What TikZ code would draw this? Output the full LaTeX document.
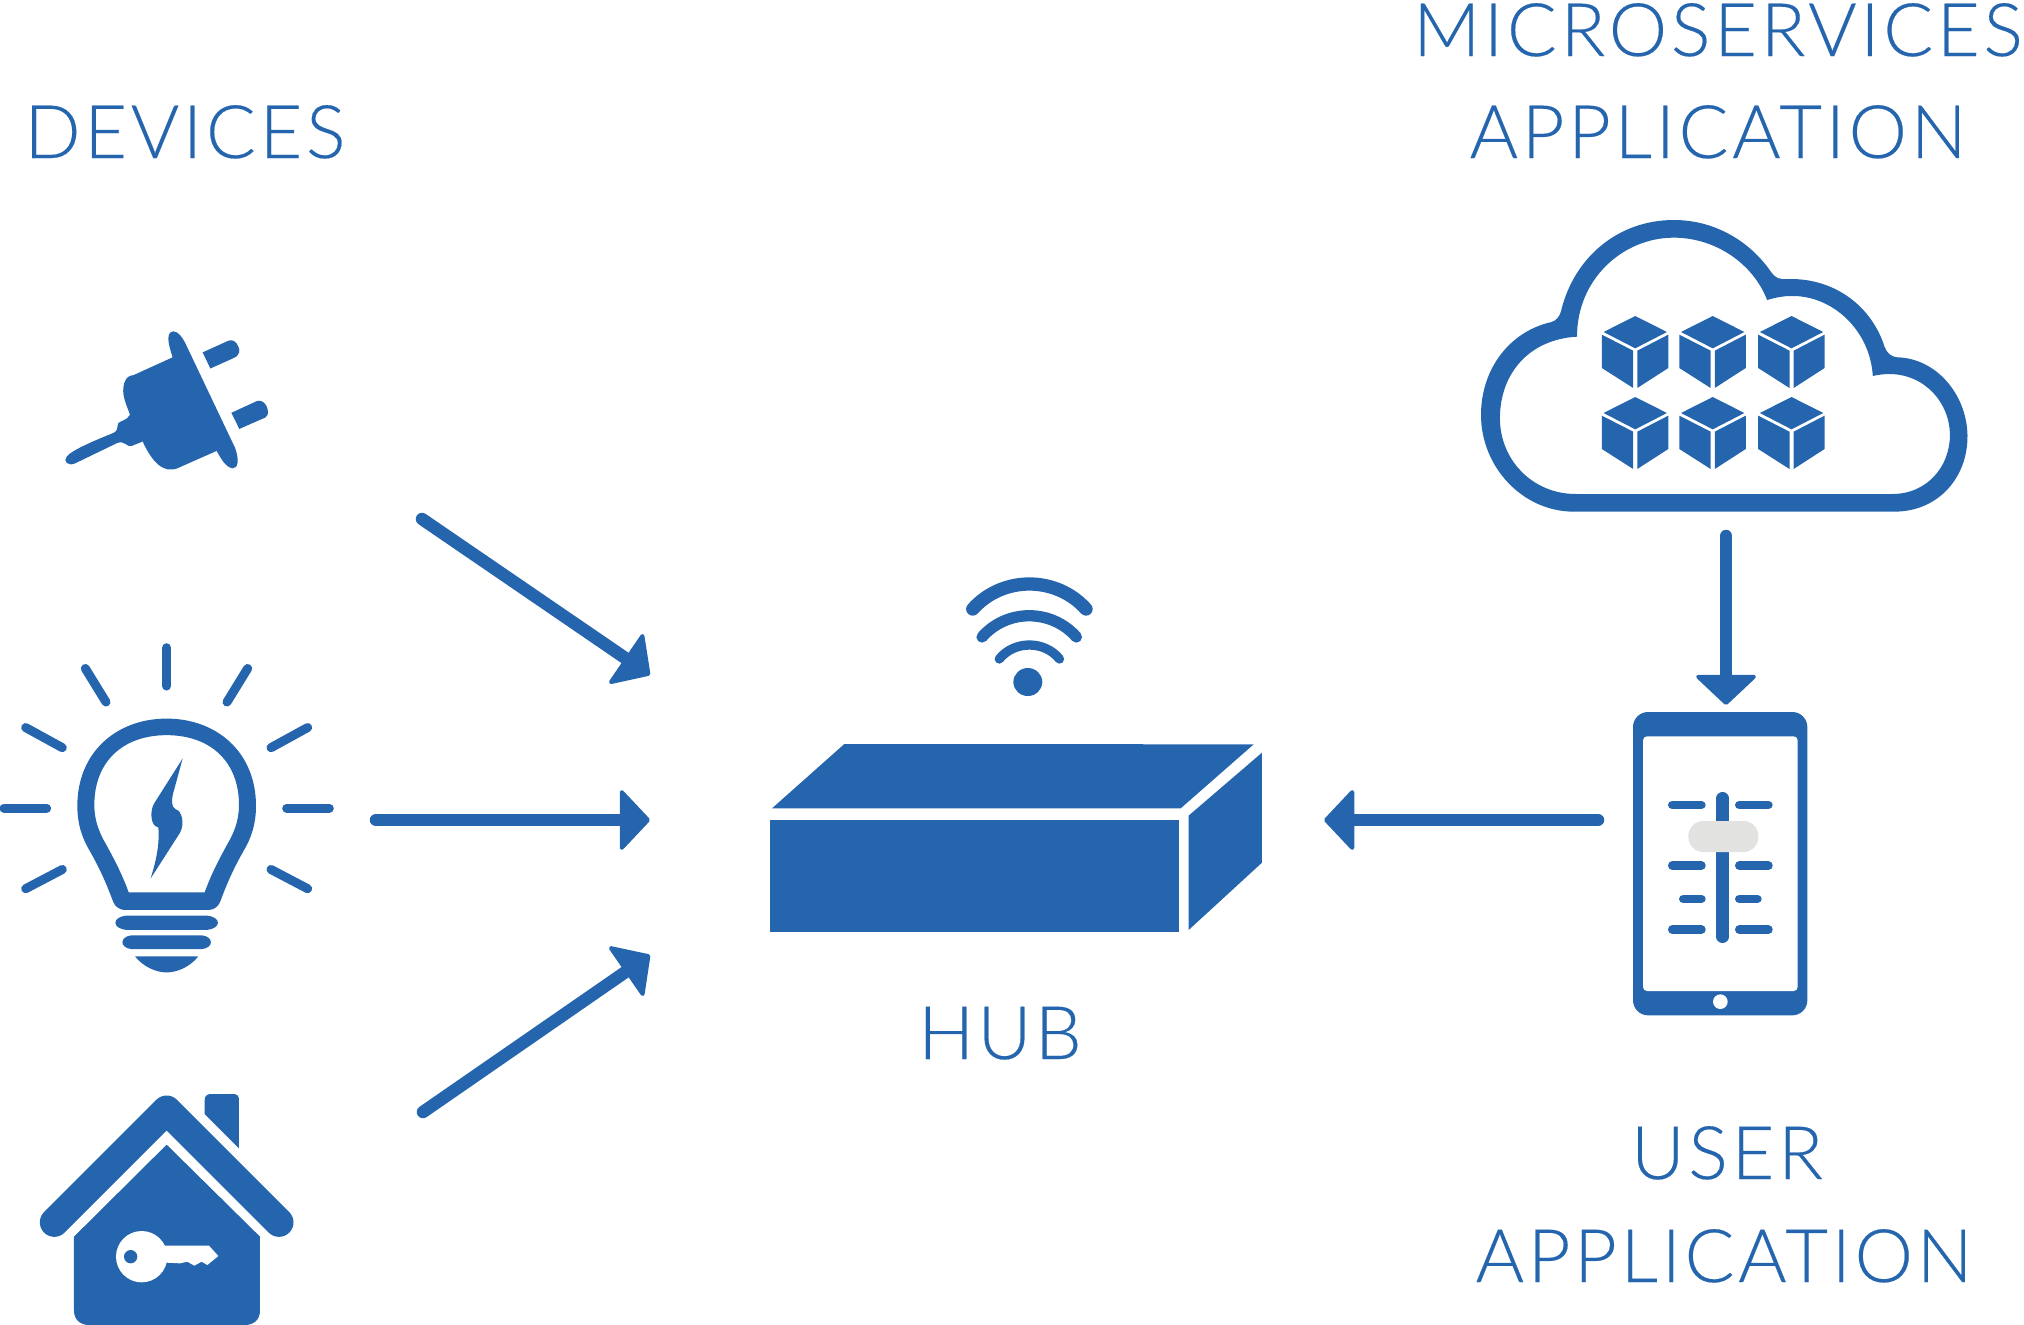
\documentclass[tikz,border=0pt]{standalone}
\usepackage{fontspec}
\setmainfont{Lato}[UprightFont=* Light,LetterSpace=5,FakeBold=0.25]
\usetikzlibrary{arrows.meta}
\definecolor{hubblue}{HTML}{2565AE}
\definecolor{knobgray}{HTML}{E2E3E1}
\tikzset{
  solid blue/.style={fill=hubblue,draw=none},
  hole/.style={fill=white,draw=none},
  ray/.style={draw=hubblue,line cap=round,line width=#1},
  link/.style={draw=hubblue,line width=.125cm,line cap=round,
    -{Triangle[length=.31cm,width=.65cm,round,line width=.04cm]}},
  tag/.style={anchor=base,text=hubblue,font=\fontsize{21}{21}\selectfont,inner sep=0pt}
}
\begin{document}
\begin{tikzpicture}[x=.01cm,y=-.01cm]
\useasboundingbox (0,0) rectangle (2024,1324);

% Textos
\node[tag] (devices) at (185,158) {DEVICES};
\node[tag] (micro) at (1718,56) {MICROSERVICES};
\node[tag] (microapp) at (1718,158) {APPLICATION};
\node[tag] (hub) at (1000,1059) {HUB};
\node[tag] (user) at (1727,1179) {USER};
\node[tag] (userapp) at (1724,1282) {APPLICATION};

% Enchufe
\begin{scope}[shift={(0,300)},xscale=1/3,yscale=.4477]
\fill[solid blue] (518,128) .. controls (503,95) and (498,72) .. (520,70)
  .. controls (535,70) and (548,85) .. (555,95) -- (705,330)
  .. controls (718,355) and (715,378) .. (697,376)
  .. controls (675,373) and (660,350) .. (650,337) -- (535,375)
  .. controls (490,390) and (455,360) .. (428,316) -- (395,326)
  .. controls (380,330) and (375,312) .. (350,320) -- (225,365)
  .. controls (205,372) and (188,360) .. (200,350)
  .. controls (215,335) and (290,312) .. (340,297)
  .. controls (355,292) and (350,285) .. (355,275)
  .. controls (365,268) and (380,270) .. (390,256)
  .. controls (380,235) and (362,210) .. (373,185)
  .. controls (378,170) and (395,168) .. (400,168) -- cycle;
\fill[solid blue] (608,117) -- (685,91) .. controls (705,85) and (722,105) .. (717,118)
  .. controls (715,125) and (708,127) .. (700,130) -- (631,153) -- cycle;
\fill[solid blue] (694,252) -- (770,226) .. controls (790,220) and (808,240) .. (803,256)
  .. controls (800,262) and (795,263) .. (785,266) -- (718,288) -- cycle;
\end{scope}

% Bombilla
\begin{scope}[shift={(0,300)},xscale=1/3,yscale=.4477]
\draw[ray=.093cm] (500,777) -- (500,862);
\draw[ray=.09cm] (256,823) -- (318,898);
\draw[ray=.09cm] (743,823) -- (681,898);
\draw[ray=.09cm] (77,955) -- (187,1000);
\draw[ray=.09cm] (923,955) -- (813,1000);
\draw[ray=.09cm] (12,1135) -- (140,1135);
\draw[ray=.09cm] (860,1135) -- (988,1135);
\draw[ray=.09cm] (77,1315) -- (187,1272);
\draw[ray=.09cm] (923,1315) -- (813,1272);
\fill[solid blue,even odd rule] (500,935) .. controls (650,935) and (768,1010) .. (768,1130)
  .. controls (768,1175) and (750,1205) .. (735,1225)
  .. controls (700,1270) and (680,1305) .. (660,1345)
  .. controls (655,1355) and (640,1362) .. (630,1362) -- (370,1362)
  .. controls (360,1362) and (345,1355) .. (340,1345)
  .. controls (320,1305) and (300,1270) .. (265,1225)
  .. controls (250,1205) and (232,1175) .. (232,1130)
  .. controls (232,1010) and (350,935) .. (500,935) -- cycle
  (500,972) .. controls (630,972) and (717,1030) .. (717,1128)
  .. controls (717,1165) and (700,1190) .. (690,1205)
  .. controls (660,1245) and (635,1280) .. (614,1323) -- (386,1323)
  .. controls (365,1280) and (340,1245) .. (310,1205)
  .. controls (300,1190) and (283,1165) .. (283,1128)
  .. controls (283,1030) and (370,972) .. (500,972) -- cycle;
\fill[solid blue] (380,1375) -- (620,1375) .. controls (665,1378) and (665,1404) .. (620,1407)
  -- (380,1407) .. controls (335,1404) and (335,1378) .. (380,1375) -- cycle;
\fill[solid blue] (395,1419) -- (605,1419) .. controls (642,1422) and (642,1447) .. (605,1450)
  -- (395,1450) .. controls (358,1447) and (358,1422) .. (395,1419) -- cycle;
\fill[solid blue] (405,1466) -- (595,1466) .. controls (570,1490) and (530,1502) .. (500,1502)
  .. controls (470,1502) and (430,1490) .. (405,1466) -- cycle;
\fill[solid blue] (548,1024) -- (462,1125) .. controls (450,1140) and (450,1175) .. (475,1178)
  .. controls (480,1220) and (465,1260) .. (452,1292) -- (540,1190)
  .. controls (555,1170) and (545,1140) .. (528,1138)
  .. controls (512,1135) and (515,1110) .. (522,1095) -- cycle;
\end{scope}

% Casa
\begin{scope}[shift={(0,1070)},scale=1/3]
\draw[ray=.29cm,line join=round] (163,457) -- (500,120) -- (837,457);
\fill[solid blue] (614,132) -- (614,90) .. controls (614,78) and (622,72) .. (632,72)
  -- (700,72) .. controls (711,72) and (717,78) .. (717,90) -- (717,235) -- cycle;
\fill[solid blue] (500,224) -- (780,500) -- (780,722) .. controls (780,750) and (760,765) .. (735,765)
  -- (267,765) .. controls (242,765) and (222,750) .. (222,722) -- (222,500) -- cycle;
\fill[hole] (425,560) circle (77);
\fill[hole] (470,527) -- (627,527) -- (655,558) -- (622,585) -- (605,575) -- (583,587)
  -- (562,575) -- (540,580) -- (500,578) -- (470,592) -- cycle;
\fill[solid blue] (392,560) circle (20);
\end{scope}

% Nube
\begin{scope}[shift={(1450,200)},xscale=.3443,yscale=1/3]
\fill[solid blue,even odd rule] (360,935) -- (1290,935) .. controls (1420,935) and (1505,830) .. (1503,705)
  .. controls (1500,580) and (1410,475) .. (1300,472)
  .. controls (1280,470) and (1270,460) .. (1262,440)
  .. controls (1225,320) and (1120,237) .. (990,237) -- (965,237)
  .. controls (945,237) and (935,220) .. (925,205)
  .. controls (860,115) and (760,60) .. (650,60)
  .. controls (490,60) and (360,170) .. (322,335)
  .. controls (318,350) and (308,362) .. (295,366)
  .. controls (170,395) and (90,510) .. (90,645)
  .. controls (90,800) and (210,935) .. (360,935) -- cycle
  (365,882) -- (1285,882) .. controls (1385,882) and (1452,800) .. (1452,705)
  .. controls (1452,610) and (1380,522) .. (1275,522)
  .. controls (1260,522) and (1240,525) .. (1228,528)
  .. controls (1220,390) and (1110,285) .. (990,288)
  .. controls (965,288) and (945,293) .. (921,300)
  .. controls (880,190) and (770,113) .. (650,113)
  .. controls (500,113) and (368,240) .. (369,410)
  .. controls (230,418) and (145,520) .. (145,655)
  .. controls (145,780) and (240,882) .. (365,882) -- cycle;
\foreach \cx in {538,763,992}
  \foreach \cy in {0,243} {
    \fill[solid blue] (\cx,348+\cy) -- (\cx+92,396+\cy) -- (\cx,445+\cy) -- (\cx-92,396+\cy) -- cycle;
    \fill[solid blue] (\cx-97,404+\cy) -- (\cx-6,452+\cy) -- (\cx-6,564+\cy) -- (\cx-97,504+\cy) -- cycle;
    \fill[solid blue] (\cx+6,452+\cy) -- (\cx+96,404+\cy) -- (\cx+96,504+\cy) -- (\cx+6,564+\cy) -- cycle;
  }
\end{scope}

% Movil
\begin{scope}[shift={(1600,690)},scale=1/3]
\fill[solid blue,rounded corners=.15cm] (99,66) rectangle (622,976);
\fill[hole,rounded corners=.04cm] (129,139) rectangle (593,903);
\fill[hole] (361,935) circle (22);
\draw[ray=.127cm] (368,325) -- (368,740);
\foreach \ly/\lx/\rx in {345/217/505,527/217/505,627/250/472,719/217/505} {
  \draw[ray=.087cm] (\lx,\ly) -- (304,\ly);
  \draw[ray=.087cm] (418,\ly) -- (\rx,\ly);
}
\fill[knobgray,rounded corners=.15cm] (265,393) rectangle (475,486);
\end{scope}

% Hub
\begin{scope}[shift={(740,560)},xscale=.3443,yscale=1/3]
\fill[solid blue] (303,552) -- (1492,553) -- (1280,745) -- (93,745) -- cycle;
\fill[solid blue] (88,779) rectangle (1275,1115);
\fill[solid blue] (1303,767) -- (1516,578) -- (1516,908) -- (1303,1110) -- cycle;
\fill[solid blue] (836,366) circle (42);
\draw[ray=.133cm] (676,147) .. controls (763,47) and (918,47) .. (1005,147);
\draw[ray=.113cm] (703,231) .. controls (775,146) and (905,146) .. (977,231);
\draw[ray=.093cm] (753,297) .. controls (797,241) and (884,241) .. (928,297);
\end{scope}

% Flechas
\coordinate (plugend) at (422,519);
\coordinate (bulbend) at (376,820);
\coordinate (homeend) at (423,1112);
\coordinate (hubtop) at (650,675);
\coordinate (hubmid) at (650,820);
\coordinate (hubbot) at (650,955);
\coordinate (phoneend) at (1598,820);
\coordinate (hubright) at (1324,820);
\coordinate (cloudend) at (1726,536);
\coordinate (phonetop) at (1726,705);
\draw[link] (plugend) -- (hubtop);
\draw[link] (bulbend) -- (hubmid);
\draw[link] (homeend) -- (hubbot);
\draw[link] (phoneend) -- (hubright);
\draw[link] (cloudend) -- (phonetop);
\end{tikzpicture}
\end{document}
